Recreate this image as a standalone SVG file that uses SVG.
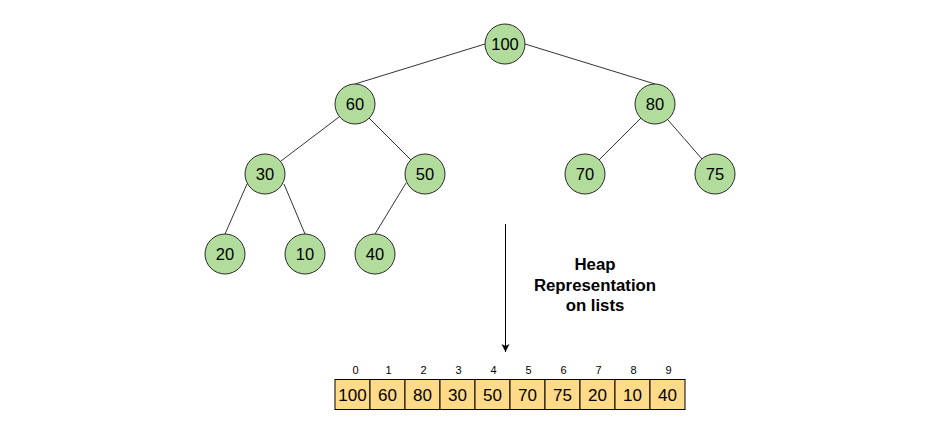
<svg xmlns="http://www.w3.org/2000/svg" width="934" height="421" viewBox="0 0 934 421">
<defs>
<style>
.node circle{fill:#B1DC9B;stroke:#2b2b2b;stroke-width:1}
.node text{font-family:"Liberation Sans",Arial,sans-serif;font-size:16.5px;fill:#000;text-anchor:middle}
.edge{stroke:#333;stroke-width:1;fill:none}
.cell rect{fill:#FFDA88;stroke:#000;stroke-width:1}
.cell text{font-family:"Liberation Sans",Arial,sans-serif;font-size:17px;fill:#000;text-anchor:middle}
.idx{font-family:"Liberation Sans",Arial,sans-serif;font-size:11px;fill:#000;text-anchor:middle}
.label{font-family:"Liberation Sans",Arial,sans-serif;font-size:16.8px;font-weight:bold;fill:#000;text-anchor:middle}
</style>
<marker id="arrow" markerWidth="10" markerHeight="10" refX="8" refY="4" orient="auto" markerUnits="userSpaceOnUse">
<path d="M0,0 L8,4 L0,8 L2,4 Z" fill="#000"/>
</marker>
</defs>
<rect width="934" height="421" fill="#fff"/>
<g id="connectors">
<path class="edge" d="M485,44 L355,84"/>
<path class="edge" d="M525,44 L655,84"/>
<path class="edge" d="M339,117 L281,161"/>
<path class="edge" d="M369,118 L411,160"/>
<path class="edge" d="M641,118 L599,160"/>
<path class="edge" d="M668,120 L702,159"/>
<path class="edge" d="M247,184 L225,234"/>
<path class="edge" d="M284,184 L305,234"/>
<path class="edge" d="M406,183 L375,234"/>
<path d="M505.5,224 L505.5,352" stroke="#000" stroke-width="1" fill="none" marker-end="url(#arrow)"/>
</g>
<g id="n100" class="node"><circle cx="505" cy="44" r="20"/><text x="505" y="50">100</text></g>
<g id="n60" class="node"><circle cx="355" cy="104" r="20"/><text x="355" y="110">60</text></g>
<g id="n80" class="node"><circle cx="655" cy="104" r="20"/><text x="655" y="110">80</text></g>
<g id="n30" class="node"><circle cx="265" cy="174" r="20"/><text x="265" y="180">30</text></g>
<g id="n50" class="node"><circle cx="425" cy="174" r="20"/><text x="425" y="180">50</text></g>
<g id="n70" class="node"><circle cx="585" cy="174" r="20"/><text x="585" y="180">70</text></g>
<g id="n75" class="node"><circle cx="715" cy="174" r="20"/><text x="715" y="180">75</text></g>
<g id="n20" class="node"><circle cx="225" cy="254" r="20"/><text x="225" y="260">20</text></g>
<g id="n10" class="node"><circle cx="305" cy="254" r="20"/><text x="305" y="260">10</text></g>
<g id="n40" class="node"><circle cx="375" cy="254" r="20"/><text x="375" y="260">40</text></g>
<g id="label">
<text class="label" x="595" y="270">Heap</text>
<text class="label" x="595" y="290.5">Representation</text>
<text class="label" x="595" y="311">on lists</text>
</g>
<g id="array">
<g class="cell"><rect x="335" y="379.5" width="35" height="30"/><text x="352.5" y="401">100</text></g>
<g class="cell"><rect x="370" y="379.5" width="35" height="30"/><text x="387.5" y="401">60</text></g>
<g class="cell"><rect x="405" y="379.5" width="35" height="30"/><text x="422.5" y="401">80</text></g>
<g class="cell"><rect x="440" y="379.5" width="35" height="30"/><text x="457.5" y="401">30</text></g>
<g class="cell"><rect x="475" y="379.5" width="35" height="30"/><text x="492.5" y="401">50</text></g>
<g class="cell"><rect x="510" y="379.5" width="35" height="30"/><text x="527.5" y="401">70</text></g>
<g class="cell"><rect x="545" y="379.5" width="35" height="30"/><text x="562.5" y="401">75</text></g>
<g class="cell"><rect x="580" y="379.5" width="35" height="30"/><text x="597.5" y="401">20</text></g>
<g class="cell"><rect x="615" y="379.5" width="35" height="30"/><text x="632.5" y="401">10</text></g>
<g class="cell"><rect x="650" y="379.5" width="35" height="30"/><text x="667.5" y="401">40</text></g>
</g>
<g id="indices">
<text class="idx" x="355.5" y="374">0</text>
<text class="idx" x="388.5" y="374">1</text>
<text class="idx" x="423.5" y="374">2</text>
<text class="idx" x="458.5" y="374">3</text>
<text class="idx" x="493.5" y="374">4</text>
<text class="idx" x="528.5" y="374">5</text>
<text class="idx" x="563.5" y="374">6</text>
<text class="idx" x="598.5" y="374">7</text>
<text class="idx" x="633.5" y="374">8</text>
<text class="idx" x="668.5" y="374">9</text>
</g>
</svg>
